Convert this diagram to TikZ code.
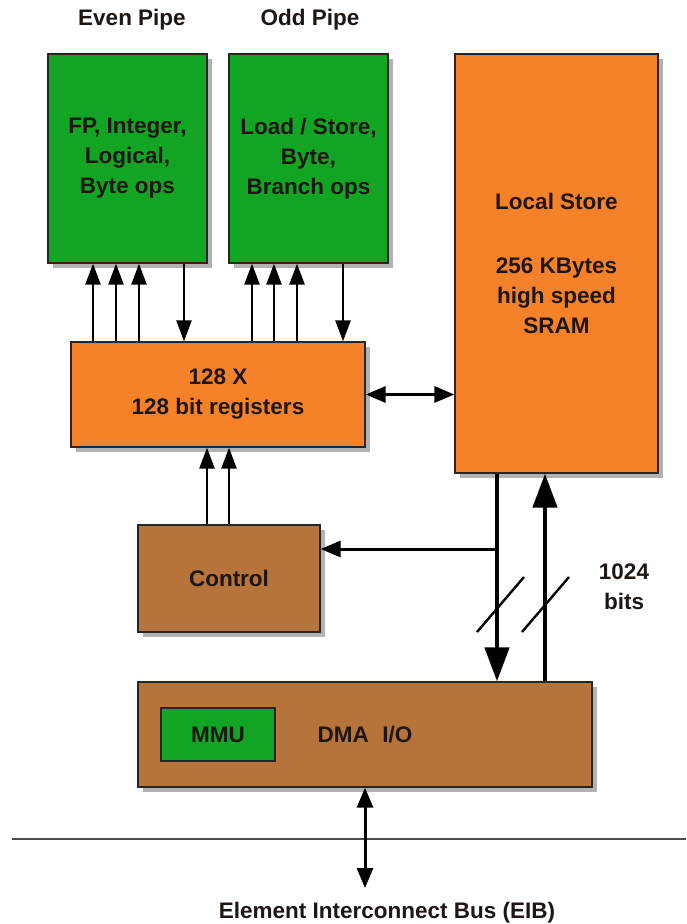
\documentclass[tikz,border=0pt]{standalone}
\usepackage{fontspec}
\setmainfont{Liberation Sans}
\usetikzlibrary{arrows.meta,shadows}
\definecolor{pipegreen}{RGB}{18,165,35}
\definecolor{lsorange}{RGB}{245,130,40}
\definecolor{ctlbrown}{RGB}{183,116,58}
\definecolor{inkc}{RGB}{30,22,18}
\begin{document}
\begin{tikzpicture}[x=1pt,y=-1pt,
  flatbox/.style={draw=black!85, line width=1.3pt, text=inkc, align=center, inner sep=0pt,
    font=\bfseries\fontsize{22.5}{30}\selectfont},
  box/.style={flatbox,
    drop shadow={shadow xshift=5pt, shadow yshift=-5pt, opacity=0.3, fill=black}},
  lbl/.style={text=inkc, align=center, inner sep=0pt, font=\bfseries\fontsize{22.5}{30}\selectfont},
  arr/.style={line width=2.6pt, draw=black, -{Triangle[length=21pt,width=15pt]}},
  bigarr/.style={line width=4.6pt, draw=black, -{Triangle[length=34pt,width=24pt]}},
  midarr/.style={line width=3pt, draw=black, -{Triangle[length=20pt,width=16pt]}},
  dblarr/.style={line width=3pt, draw=black, {Triangle[length=20pt,width=16pt]}-{Triangle[length=20pt,width=16pt]}},
  slash/.style={line width=2.4pt, draw=black}
]
\useasboundingbox (0,0) rectangle (686,924);

% labels
\node[lbl] (evenlbl) at (132,20) {Even Pipe};
\node[lbl] (oddlbl) at (310,20) {Odd Pipe};

% boxes
\node[box, fill=pipegreen, minimum width=159pt, minimum height=209pt] (even) at (127.5,158.5)
  {FP, Integer,\\Logical,\\Byte ops};
\node[box, fill=pipegreen, minimum width=159pt, minimum height=209pt] (odd) at (308.5,158.5)
  {Load / Store,\\Byte,\\Branch ops};
\node[box, fill=lsorange, minimum width=203pt, minimum height=419pt] (ls) at (556.5,263.5)
  {Local Store\\[34pt]256 KBytes\\high speed\\SRAM};
\node[box, fill=lsorange, minimum width=294pt, minimum height=105pt] (reg) at (218,394.5)
  {128 X\\128 bit registers};
\node[box, fill=ctlbrown, minimum width=182pt, minimum height=107pt] (ctrl) at (229,578.5)
  {Control};
\node[box, fill=ctlbrown, minimum width=454pt, minimum height=105pt] (dma) at (365,734.5)
  {DMA\hspace{0.6em}I/O};
\node[flatbox, fill=pipegreen, minimum width=114pt, minimum height=53pt] (mmu) at (218,734.5)
  {MMU};

% pipe <-> register connectors
\coordinate (a1) at (93,0);
\coordinate (a2) at (116,0);
\coordinate (a3) at (139,0);
\coordinate (a4) at (184,0);
\coordinate (b1) at (252,0);
\coordinate (b2) at (274,0);
\coordinate (b3) at (297,0);
\coordinate (b4) at (343,0);
\draw[arr] (reg.north -| a1) -- (even.south -| a1);
\draw[arr] (reg.north -| a2) -- (even.south -| a2);
\draw[arr] (reg.north -| a3) -- (even.south -| a3);
\draw[arr] (even.south -| a4) -- (reg.north -| a4);
\draw[arr] (reg.north -| b1) -- (odd.south -| b1);
\draw[arr] (reg.north -| b2) -- (odd.south -| b2);
\draw[arr] (reg.north -| b3) -- (odd.south -| b3);
\draw[arr] (odd.south -| b4) -- (reg.north -| b4);

% control -> registers
\coordinate (c1) at (207,0);
\coordinate (c2) at (229,0);
\draw[arr] (ctrl.north -| c1) -- (reg.south -| c1);
\draw[arr] (ctrl.north -| c2) -- (reg.south -| c2);

% registers <-> local store
\draw[dblarr] (reg.east) -- (ls.west |- reg.east);

% local store <-> DMA
\coordinate (t1) at (497,0);
\coordinate (t2) at (545,0);
\draw[bigarr] (ls.south -| t1) -- (dma.north -| t1);
\draw[bigarr] (dma.north -| t2) -- (ls.south -| t2);
\coordinate (br) at (497,549);
\draw[midarr] (br) -- (ctrl.east |- br);
\draw[slash] (477,632) -- (524,577);
\draw[slash] (522,632) -- (569,577);
\node[lbl] (bits) at (624,587) {1024\\bits};

% bus
\coordinate (busl) at (12,839);
\coordinate (busr) at (686,839);
\draw[line width=1.3pt, black!70] (busl) -- (busr);
\coordinate (eb) at (365,888);
\draw[dblarr] (dma.south) -- (eb);
\node[lbl] (eib) at (387,913) {Element Interconnect Bus (EIB)};
\end{tikzpicture}
\end{document}
